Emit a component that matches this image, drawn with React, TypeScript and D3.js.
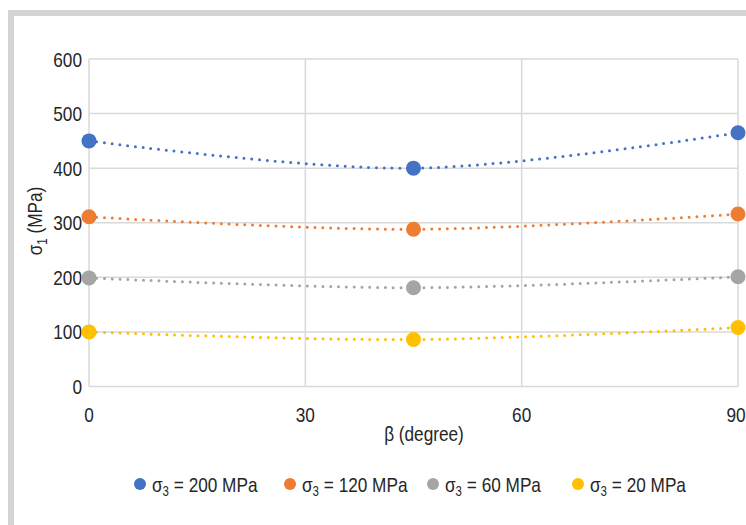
import React from "react";
import * as d3 from "d3";

const betaValues = [0, 45, 90];
const seriesNames = ["200 MPa", "120 MPa", "60 MPa", "20 MPa"];
const sigma200 = [450, 400, 465];
const sigma120 = [311, 288, 316];
const sigma60 = [199, 181, 201];
const sigma20 = [100, 86, 108];
const xTicks = [0, 30, 60, 90];
const yTicks = [0, 100, 200, 300, 400, 500, 600];
const colors = ["#4472C4", "#ED7D31", "#A5A5A5", "#FFC000"];

const FONT = "'Liberation Sans', Arial, sans-serif";
const SX = 0.82;
const FS = 21;
const TXT = "#262626";

function T(props: { x: number; y: number; anchor?: string; rotate?: number; children: React.ReactNode }) {
  const { x, y, anchor = "start", rotate = 0, children } = props;
  return (
    <text
      transform={`translate(${x},${y}) rotate(${rotate}) scale(${SX},1)`}
      textAnchor={anchor}
      fontFamily={FONT}
      fontSize={FS}
      fill={TXT}
    >
      {children}
    </text>
  );
}

export default function App() {
  const W = 746, H = 525;
  const left = 89, right = 738, top = 59, bottom = 386.5;
  const x = d3.scaleLinear().domain([0, 90]).range([left, right]);
  const y = d3.scaleLinear().domain([0, 600]).range([bottom, top]);
  const all = [sigma200, sigma120, sigma60, sigma20];
  const line = d3
    .line<[number, number]>()
    .x((d) => x(d[0]))
    .y((d) => y(d[1]))
    .curve(d3.curveCardinal.tension(0));

  const legendX = [140, 290, 433, 578];
  const legendY = 484;

  return (
    <svg width={W} height={H} style={{ position: "absolute", left: 0, top: 0, display: "block" }}>
      <rect x={0} y={0} width={W} height={H} fill="#fff" />
      {/* frame */}
      <rect x={8} y={10} width={W - 8} height={6} fill="#D4D4D4" />
      <rect x={8} y={10} width={6} height={H - 10} fill="#D4D4D4" />
      {/* gridlines */}
      {yTicks.map((t) => (
        <line key={"gy" + t} x1={left} x2={right} y1={y(t)} y2={y(t)} stroke="#D9D9D9" strokeWidth={1.5} />
      ))}
      {xTicks.map((t) => (
        <line key={"gx" + t} x1={x(t)} x2={x(t)} y1={top} y2={bottom} stroke="#D9D9D9" strokeWidth={1.5} />
      ))}
      {/* tick labels */}
      {yTicks.map((t) => (
        <T key={"ty" + t} x={82} y={y(t) + 7.5} anchor="end">
          {t}
        </T>
      ))}
      {xTicks.map((t) => (
        <T key={"tx" + t} x={Math.min(x(t), 736)} y={422} anchor="middle">
          {t}
        </T>
      ))}
      {/* axis titles */}
      <T x={424} y={441} anchor="middle">
        β (degree)
      </T>
      <T x={42} y={221} anchor="middle" rotate={-90}>
        σ<tspan fontSize={14} dy={5}>1</tspan>
        <tspan dy={-5}> (MPa)</tspan>
      </T>
      {/* series */}
      {all.map((vals, i) => {
        const pts = betaValues.map((b, j) => [b, vals[j]] as [number, number]);
        return (
          <g key={"s" + i}>
            <path
              d={line(pts) || ""}
              fill="none"
              stroke={colors[i]}
              strokeWidth={3}
              strokeLinecap="round"
              strokeDasharray="0 7.8"
            />
            {pts.map((p, j) => (
              <circle key={j} cx={x(p[0])} cy={y(p[1])} r={7.5} fill={colors[i]} />
            ))}
          </g>
        );
      })}
      {/* legend */}
      {seriesNames.map((n, i) => (
        <g key={"l" + i}>
          <circle cx={legendX[i]} cy={legendY} r={6} fill={colors[i]} />
          <T x={legendX[i] + 12} y={legendY + 7.5}>
            σ<tspan fontSize={14} dy={4}>3</tspan>
            <tspan dy={-4}> = {n}</tspan>
          </T>
        </g>
      ))}
    </svg>
  );
}
